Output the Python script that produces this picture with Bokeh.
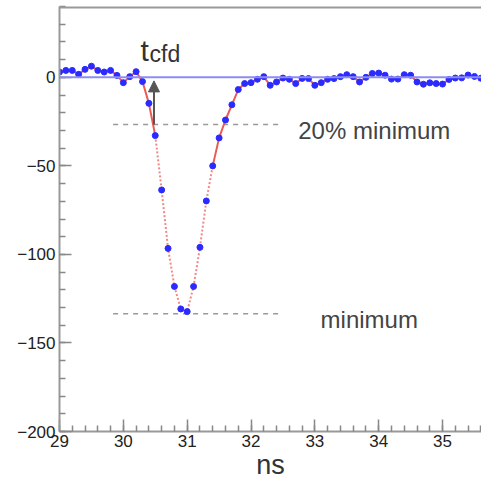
from bokeh.plotting import figure
from bokeh.models import FixedTicker, Span, Arrow, NormalHead
from bokeh.core.properties import value
from bokeh.embed import file_html
from bokeh.resources import INLINE

# ---- data ----
time_ns = [29.0, 29.1, 29.2, 29.3, 29.4, 29.5, 29.6, 29.7, 29.8, 29.9,
           30.0, 30.1, 30.2, 30.3, 30.4, 30.5, 30.6, 30.7, 30.8, 30.9,
           31.0, 31.1, 31.2, 31.3, 31.4, 31.5, 31.6, 31.7, 31.8, 31.9,
           32.0, 32.1, 32.2, 32.3, 32.4, 32.5, 32.6, 32.7, 32.8, 32.9,
           33.0, 33.1, 33.2, 33.3, 33.4, 33.5, 33.6, 33.7, 33.8, 33.9,
           34.0, 34.1, 34.2, 34.3, 34.4, 34.5, 34.6, 34.7, 34.8, 34.9,
           35.0, 35.1, 35.2, 35.3, 35.4, 35.5, 35.6, 35.7, 35.8]
amplitude = [3.0, 3.9, 3.9, 1.7, 4.5, 6.3, 3.9, 3.0, 3.9, 1.1,
             -3.0, 0.4, 3.2, -2.4, -14.7, -32.9, -63.6, -96.6, -118.1, -130.8,
             -132.3, -118.1, -96.0, -69.8, -50.0, -34.2, -24.1, -15.5, -6.9, -3.5,
             -3.0, -1.1, 0.4, -4.5, -2.6, -0.4, -1.1, -3.5, -0.6, -0.7,
             -4.5, -3.0, -1.1, -0.7, 0.4, 1.5, 0.4, -2.6, 0.0, 2.2,
             2.4, 1.2, -1.0, -1.0, 1.5, 1.2, -2.6, -3.9, -3.1, -3.5,
             -3.8, -1.2, -0.4, -0.3, 1.3, 0.5, -0.5, 0.0, 1.5]

minimum_level = -133.5
cfd_fraction = 0.2
cfd_level = minimum_level * cfd_fraction
t_cfd = 30.48
guide_x = [29.84, 32.46]

x_ticks = [29, 30, 31, 32, 33, 34, 35]
y_ticks = [-200, -150, -100, -50, 0]
x_minor = [29 + 0.2 * i for i in range(36)]
y_minor = [-200 + 10 * i for i in range(25)]

FONT = "Liberation Sans"

p = figure(width=481, height=482, x_range=(29, 35.61), y_range=(-200, 40),
           output_backend="svg", toolbar_location=None,
           min_border_left=59, min_border_right=0, min_border_top=6,
           min_border_bottom=50)
p.background_fill_color = "white"
p.border_fill_color = "white"
p.outline_line_color = None
p.xgrid.visible = False
p.ygrid.visible = False

for ax, ticks, minor in ((p.xaxis, x_ticks, x_minor), (p.yaxis, y_ticks, y_minor)):
    ax.ticker = FixedTicker(ticks=ticks, minor_ticks=minor)
    ax.axis_line_color = "#999999"
    ax.axis_line_width = 2
    ax.major_tick_line_color = "#888888"
    ax.major_tick_line_width = 1.5
    ax.minor_tick_line_color = "#888888"
    ax.minor_tick_line_width = 1.5
    ax.major_tick_in = 12
    ax.major_tick_out = 0
    ax.minor_tick_in = 6
    ax.minor_tick_out = 0
    ax.major_label_text_font = FONT
    ax.major_label_text_font_size = "17px"
    ax.major_label_text_color = "#222222"

p.xaxis.major_label_standoff = 3
p.yaxis.major_label_standoff = 4
p.xaxis.axis_label = "ns"
p.xaxis.axis_label_text_font = FONT
p.xaxis.axis_label_text_font_size = "27px"
p.xaxis.axis_label_text_font_style = "normal"
p.xaxis.axis_label_text_color = "#333333"
p.xaxis.axis_label_standoff = 0

# top frame border
p.add_layout(Span(location=40, dimension="width", line_color="#999999", line_width=4))
# baseline
p.add_layout(Span(location=0, dimension="width", line_color="#8c8cf2", line_width=2))

# guide lines
p.line(guide_x, [cfd_level, cfd_level], line_color="#9a9a9a", line_width=1.5, line_dash="5 5")
p.line(guide_x, [minimum_level, minimum_level], line_color="#9a9a9a", line_width=1.5, line_dash="5 5")

# red interpolation line: solid on slow parts, dotted on steep parts
i0 = time_ns.index(30.5)
i1 = time_ns.index(31.4)
p.line(time_ns[:i0 + 1], amplitude[:i0 + 1], line_color="#ec5a55", line_width=2)
p.line(time_ns[i0:i1 + 1], amplitude[i0:i1 + 1], line_color="#f08a86", line_width=2, line_dash="2 2")
p.line(time_ns[i1:], amplitude[i1:], line_color="#ec5a55", line_width=2)

p.scatter(time_ns, amplitude, size=6, fill_color="#2b2bff", line_color="#2b2bff")

# arrow for t_cfd
p.add_layout(Arrow(end=NormalHead(size=11, fill_color="#555555", line_color="#555555"),
                   x_start=t_cfd, y_start=cfd_level, x_end=t_cfd, y_end=-2,
                   line_color="#555555", line_width=2))

p.text(x=[30.27], y=[15.0], text=["t"], text_font=value(FONT), text_font_size="30px",
       text_color="#333333", text_baseline="alphabetic")
p.text(x=[30.41], y=[13.0], text=["cfd"], text_font=value(FONT), text_font_size="23px",
       text_color="#333333", text_baseline="alphabetic")
p.text(x=[32.74], y=[-30.0], text=["20% minimum"], text_font=value(FONT), text_font_size="24px",
       text_color="#444444", text_baseline="alphabetic")
p.text(x=[33.09], y=[-136.5], text=["minimum"], text_font=value(FONT), text_font_size="24px",
       text_color="#444444", text_baseline="alphabetic")

open("out.html", "w").write(file_html(p, INLINE))
